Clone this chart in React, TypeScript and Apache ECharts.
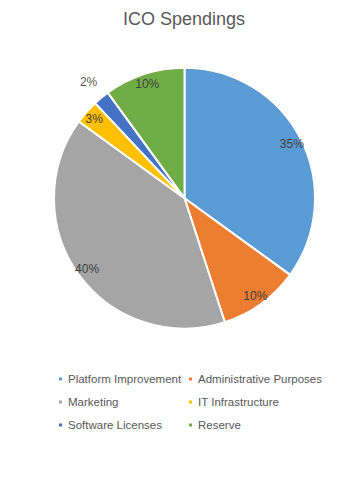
import React, { useEffect, useRef } from "react";
import * as echarts from "echarts";

const categories = [
  "Platform Improvement",
  "Administrative Purposes",
  "Marketing",
  "IT Infrastructure",
  "Software Licenses",
  "Reserve",
];
const values = [35, 10, 40, 3, 2, 10];
const colors = ["#5B9BD5", "#ED7D31", "#A5A5A5", "#FFC000", "#4472C4", "#70AD47"];
const leftLegend = ["Platform Improvement", "Marketing", "Software Licenses"];
const rightLegend = ["Administrative Purposes", "IT Infrastructure", "Reserve"];
const outsideLabels = ["Software Licenses"];

const FONT = "'Liberation Sans', Arial, sans-serif";

export default function App() {
  const ref = useRef<HTMLDivElement>(null);
  useEffect(() => {
    document.body.style.margin = "0";
    const chart = echarts.init(ref.current!, null, { renderer: "svg" });
    const R = 130.5;
    const center = [184.5, 198.2];
    const base = categories.map((name, i) => ({ name, value: values[i] }));
    const legendCommon = {
      orient: "vertical" as const,
      icon: "rect",
      itemWidth: 5,
      itemHeight: 5,
      itemGap: 9,
      textStyle: { fontFamily: FONT, fontSize: 11.5, color: "#595959", lineHeight: 14 },
      selectedMode: false,
      padding: 0,
    };
    chart.setOption({
      animation: false,
      color: colors,
      title: {
        text: "ICO Spendings",
        left: 123,
        top: 10,
        padding: 0,
        textStyle: { fontFamily: FONT, fontSize: 18, fontWeight: "normal", color: "#595959" },
      },
      legend: [
        { ...legendCommon, data: leftLegend, left: 57, top: 372 },
        { ...legendCommon, data: rightLegend, left: 187, top: 372 },
      ],
      series: [
        {
          type: "pie",
          center,
          radius: [0, R],
          startAngle: 90,
          clockwise: true,
          label: { show: false },
          labelLine: { show: false },
          itemStyle: { borderColor: "#ffffff", borderWidth: 2 },
          emphasis: { disabled: true },
          data: base,
        },
        {
          type: "pie",
          center,
          radius: [R * 0.8, R],
          startAngle: 90,
          silent: true,
          itemStyle: { color: "rgba(0,0,0,0)" },
          labelLine: { show: false },
          emphasis: { disabled: true },
          label: {
            show: true,
            position: "inside",
            formatter: (p: any) => (outsideLabels.includes(p.name) ? "" : p.value + "%"),
            fontFamily: FONT,
            fontSize: 12,
            color: "#404040",
          },
          data: base,
        },
        {
          type: "pie",
          center,
          radius: [R * 1.06, R * 1.2],
          startAngle: 90,
          silent: true,
          itemStyle: { color: "rgba(0,0,0,0)" },
          labelLine: { show: false },
          emphasis: { disabled: true },
          label: {
            show: true,
            position: "inside",
            formatter: (p: any) => (outsideLabels.includes(p.name) ? p.value + "%" : ""),
            fontFamily: FONT,
            fontSize: 12,
            color: "#595959",
          },
          data: base,
        },
      ],
    });
    return () => chart.dispose();
  }, []);
  return <div ref={ref} style={{ width: 352, height: 478 }} />;
}
